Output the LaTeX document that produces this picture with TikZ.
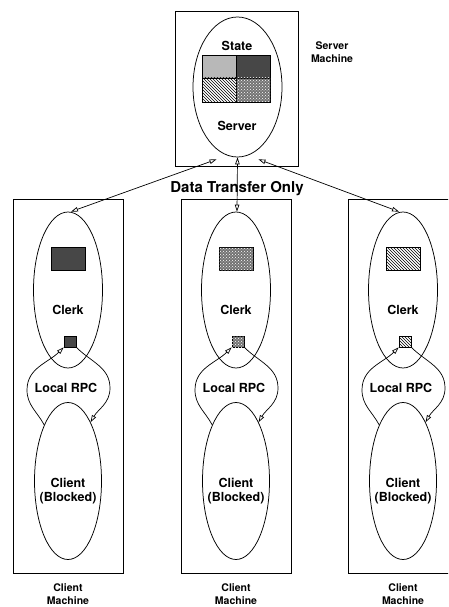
\documentclass[tikz,border=0pt]{standalone}
\usepackage{fontspec}
\setmainfont{TeX Gyre Heros}
\usetikzlibrary{shapes.geometric,patterns,arrows.meta}
\tikzset{
  lbl/.style={font=\fontsize{12.5}{14}\selectfont\bfseries, inner sep=0pt, align=center},
  mlbl/.style={font=\fontsize{10.5}{13.5}\selectfont\bfseries, inner sep=0pt, align=center},
  bigl/.style={font=\fontsize{15}{17}\selectfont\bfseries, inner sep=0pt},
  machine/.style={draw, line width=1pt, inner sep=0pt},
  oval/.style={draw, ellipse, line width=0.75pt, inner sep=0pt},
  dark/.style={draw, line width=0.7pt, fill=black!72},
  light/.style={draw, line width=0.7pt, fill=black!28},
  hatch/.style={draw, line width=0.7pt, pattern=north west lines},
  dots/.style={draw, line width=0.7pt, fill=black!55, postaction={pattern=crosshatch dots, pattern color=white}},
  opentip/.tip={Triangle[open,length=7pt,width=4.5pt]},
  conn/.style={line width=0.7pt},
}
\newcommand\clientcolumn[3]{%
  \node[machine, minimum width=110pt, minimum height=374pt] (mach#1) at (#2,386) {};
  \node[oval, minimum width=69pt, minimum height=156pt] (clerk#1) at (#2,290) {};
  \path[#3] (#2-17,247) rectangle (#2+17,270);
  \node[#3, minimum width=12pt, minimum height=11pt, inner sep=0pt] (sq#1) at (#2+2,341.5) {};
  \node[lbl, anchor=base] (clerklbl#1) at (#2,314) {Clerk};
  \node[lbl, anchor=base] (rpc#1) at (#2-2,392) {Local RPC};
  \node[oval, minimum width=67pt, minimum height=157pt] (client#1) at (#2,481) {};
  \node[lbl] (clientlbl#1) at (#2,491) {Client\\(Blocked)};
  \node[mlbl] (cmach#1) at (#2,594) {Client\\Machine};
  \draw[conn, -opentip] (client#1.113) to[out=118,in=270] (#2-41,390)
        to[out=90,in=225] (sq#1.south west);
  \draw[conn, -opentip] (sq#1.south east) to[out=-45,in=90] (#2+42,388)
        to[out=-90,in=60] (client#1.69);
}
\begin{document}
\begin{tikzpicture}[x=1pt,y=-1pt]
\useasboundingbox (0,0) rectangle (448,607);
\clip (0,0) rectangle (448,607);
% server machine
\node[machine, minimum width=123pt, minimum height=154pt] (smach) at (236.5,89) {};
\node[oval, minimum width=89pt, minimum height=140pt] (server) at (237.5,87) {};
\node[lbl, anchor=base] (statelbl) at (237,51) {State};
\path[light] (202,55) rectangle (236,78);
\path[dark] (236,55) rectangle (270,78);
\path[hatch] (202,78) rectangle (236,102);
\path[dots] (236,78) rectangle (270,102);
\node[lbl, anchor=base] (serverlbl) at (237,131) {Server};
\node[mlbl] (smachlbl) at (332,52) {Server\\Machine};
% clients
\clientcolumn{L}{68}{dark}
\clientcolumn{M}{236}{dots}
\clientcolumn{R}{403}{hatch}
% data transfer
\node[bigl, anchor=base] (dt) at (237,192) {Data Transfer Only};
\draw[conn, opentip-opentip] ([xshift=-21pt,yshift=-2pt]server.south) -- ([xshift=3pt]clerkL.north);
\draw[conn, opentip-opentip] (server.south) -- ([xshift=1pt]clerkM.north);
\draw[conn, opentip-opentip] ([xshift=21pt,yshift=-2pt]server.south) -- ([xshift=-4pt]clerkR.north);
\end{tikzpicture}
\end{document}
